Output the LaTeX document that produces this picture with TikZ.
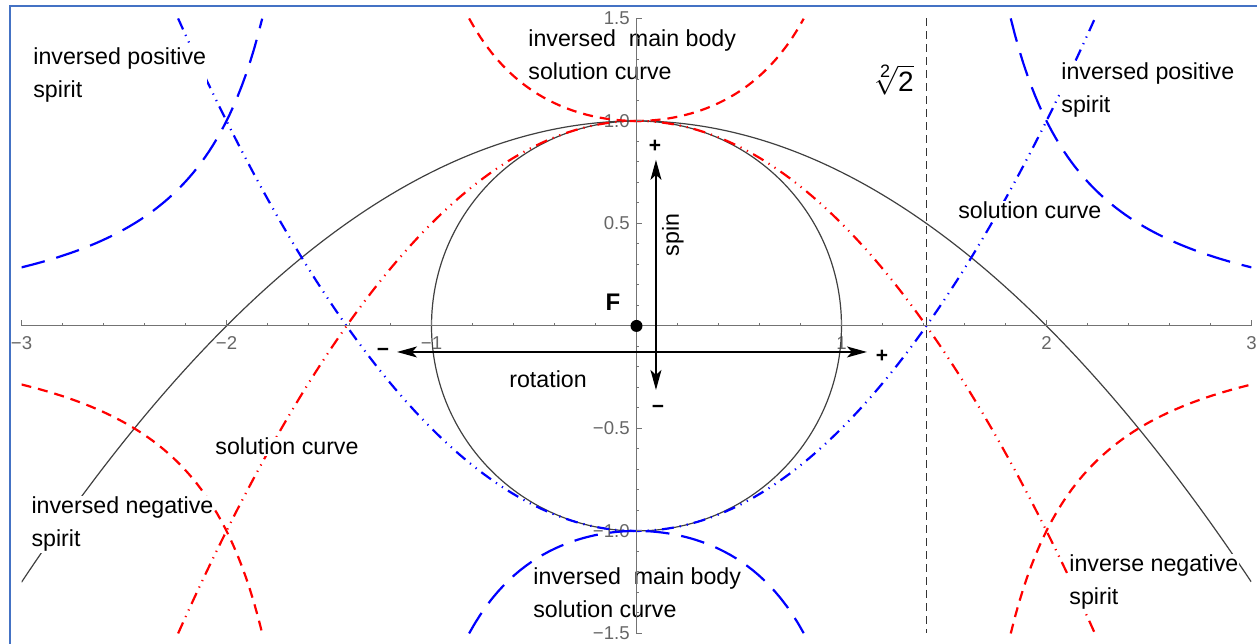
\documentclass[tikz,border=0pt]{standalone}
\usepackage{fontspec}
\setmainfont{Liberation Sans}
\usetikzlibrary{arrows.meta}
\definecolor{framebl}{RGB}{68,114,196}
\begin{document}
\begin{tikzpicture}[x=102.5pt,y=102.5pt,
  lab/.style={fill=white, inner sep=0.5pt, anchor=base west, align=left, font=\fontsize{11.6}{16.5}\selectfont},
  tlab/.style={font=\fontsize{9.3}{11}\selectfont, text=black!60, inner sep=0pt},
  sign/.style={font=\bfseries\fontsize{10.5}{12}\selectfont, inner sep=0pt},
  curveblk/.style={draw=black!75, line width=0.6pt},
  rdash/.style={draw=red, line width=1.1pt, dash pattern=on 5pt off 3.5pt},
  bdash/.style={draw=blue, line width=1.1pt, dash pattern=on 12pt off 6pt},
  rdd/.style={draw=red, line width=1.1pt, dash pattern=on 6pt off 3pt on 0.6pt off 3pt on 0.6pt off 3pt},
  bdd/.style={draw=blue, line width=1.1pt, dash pattern=on 6pt off 3pt on 0.6pt off 3pt on 0.6pt off 3pt},
  axisln/.style={draw=black!55, line width=0.5pt},
  arr/.style={draw=black, line width=0.6pt, {Stealth[length=10pt,width=5.5pt,inset=2.5pt]}-{Stealth[length=10pt,width=5.5pt,inset=2.5pt]}}
]
\useasboundingbox (-3.105,-1.551) rectangle (3.027,1.590);

% frame
\coordinate (fa) at (-3.056,-1.551);
\coordinate (fb) at (-3.056,1.561);
\coordinate (fc) at (3.027,1.561);
\draw[framebl, line width=1pt] (fa) -- (fb) -- (fc);

% tick labels
\foreach \v/\t/\n in {-3/−3/a,-2/−2/b,-1/−1/c,1/1/d,2/2/e,3/3/f}
  \node[tlab, anchor=north, yshift=-5pt] (x\n) at (\v,0) {\t};
\foreach \v/\t/\n in {1.5/1.5/a,1/1.0/b,0.5/0.5/c,-0.5/−0.5/d,-1/−1.0/e,-1.5/−1.5/f}
  \node[tlab, anchor=east, xshift=-3.2pt] (y\n) at (0,\v) {\t};

% curves
\begin{scope}
\clip (-3,-1.5) rectangle (3,1.5);
\draw[curveblk] (0,0) circle (1);
\draw[curveblk] plot[domain=-3:3, samples=121, smooth] (\x,{1-\x*\x/4});
\draw[rdd] plot[domain=-2.2361:2.2361, samples=160] (\x,{1-\x*\x/2});
\draw[bdd] plot[domain=-2.2361:2.2361, samples=160] (\x,{\x*\x/2-1});
\draw[rdash] plot[domain=-0.8165:0.8165, samples=60] (\x,{1/(1-\x*\x/2)});
\draw[rdash] plot[domain=1.8257:3, samples=60] (\x,{1/(1-\x*\x/2)});
\draw[rdash] plot[domain=-3:-1.8257, samples=60] (\x,{1/(1-\x*\x/2)});
\draw[bdash] plot[domain=-0.8165:0.8165, samples=60] (\x,{1/(\x*\x/2-1)});
\draw[bdash] plot[domain=1.8257:3, samples=60] (\x,{1/(\x*\x/2-1)});
\draw[bdash] plot[domain=-3:-1.8257, samples=60] (\x,{1/(\x*\x/2-1)});
\end{scope}

% sqrt 2 line
\coordinate (sqt) at (1.41421,1.5);
\coordinate (sqb) at (1.41421,-1.5);
\draw[black!80, line width=0.7pt, dash pattern=on 4pt off 2.5pt] (sqt) -- (sqb);
\node[font=\fontsize{14}{16}\selectfont, inner sep=0pt] (sq) at (1.251,1.200) {$\sqrt[\mbox{\fontsize{9}{10}\selectfont 2}]{\mbox{\fontsize{14}{16}\selectfont 2}}$};

% labels
\node[lab] (l1) at (-2.949,1.112) {inversed positive\\spirit};
\node[lab] (l2) at (-0.534,1.200) {inversed\ \ main body\\solution curve};
\node[lab] (l3) at (2.066,1.039) {inversed positive\\spirit};
\node[lab] (l4) at (1.563,0.522) {solution curve};
\node[lab] (l5) at (-2.061,-0.629) {solution curve};
\node[lab] (l6) at (-2.958,-1.078) {inversed negative\\spirit};
\node[lab] (l7) at (2.105,-1.361) {inverse negative\\spirit};
\node[lab] (l8) at (-0.510,-1.424) {inversed\ \ main body\\solution curve};
\node[lab, fill=none] (l9) at (-0.627,-0.298) {rotation};
\node[lab, fill=none, anchor=center, rotate=90] (l10) at (0.178,0.444) {spin};

% axes
\coordinate (xl) at (-3,0); \coordinate (xr) at (3,0);
\coordinate (yb) at (0,-1.5); \coordinate (yt) at (0,1.5);
\draw[axisln] (xl) -- (xr);
\draw[axisln] (yb) -- (yt);
\foreach \i in {-15,...,15} \draw[axisln] (\i/5,0) -- ++(0,1.5pt);
\foreach \i in {-3,...,3} \draw[axisln] (\i,0) -- ++(0,2.8pt);
\foreach \i in {-15,...,15} \draw[axisln] (0,\i/10) -- ++(1.5pt,0);
\foreach \i in {-3,...,3} \draw[axisln] (0,\i/2) -- ++(2.8pt,0);

% arrows
\coordinate (hl) at (-1.168,-0.127); \coordinate (hr) at (1.124,-0.127);
\draw[arr] (hl) -- (hr);
\coordinate (vt) at (0.095,0.81); \coordinate (vb) at (0.095,-0.312);
\draw[arr] (vb) -- (vt);

\node[sign] (pt) at (0.090,0.878) {+};
\node[sign] (mb) at (0.105,-0.405) {−};
\node[sign] (pr) at (1.198,-0.146) {+};
\node[sign] (ml) at (-1.237,-0.127) {−};

% focus
\node[circle, fill=black, inner sep=0pt, minimum size=6pt] (fdot) at (0,0) {};
\node[font=\bfseries\fontsize{12}{14}\selectfont, inner sep=0pt] (flab) at (-0.115,0.117) {F};
\end{tikzpicture}
\end{document}
